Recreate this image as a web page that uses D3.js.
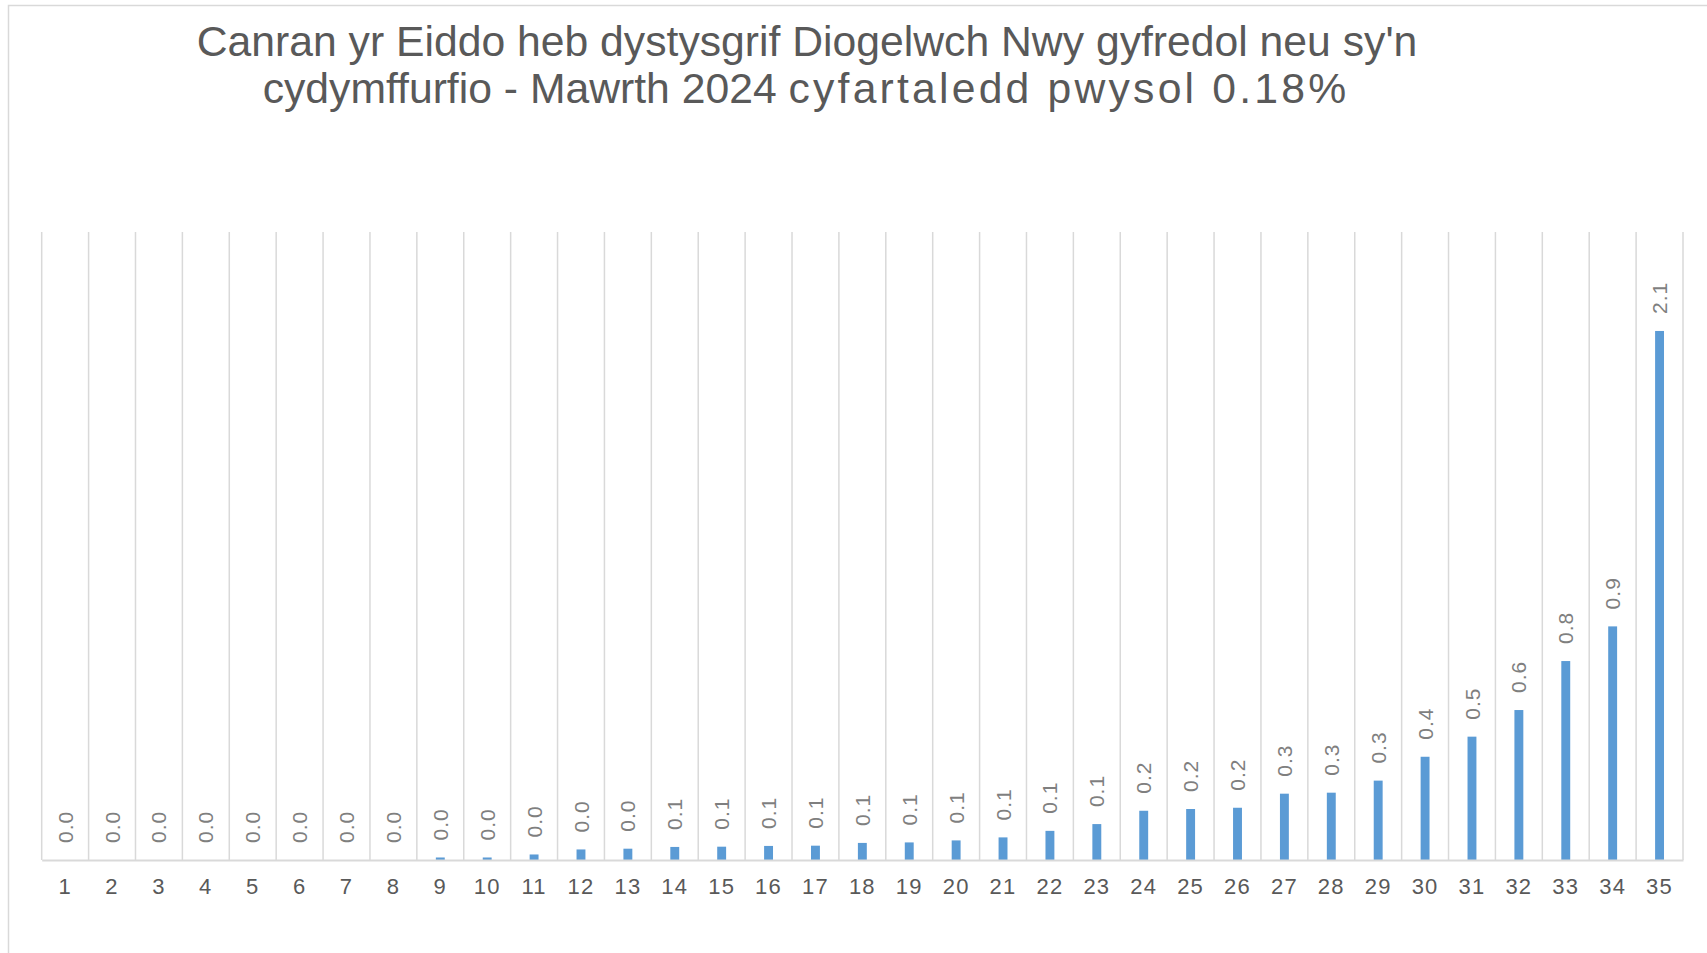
<!DOCTYPE html>
<html>
<head>
<meta charset="utf-8">
<script src="https://cdn.jsdelivr.net/npm/d3@7"></script>
<style>
  html, body { margin: 0; padding: 0; background: #ffffff; }
  svg { display: block; font-family: "Liberation Sans", Arial, sans-serif; }
</style>
</head>
<body>
<svg id="chart" width="1707" height="953"></svg>
<script>
const titleLine1 = "Canran yr Eiddo heb dystysgrif Diogelwch Nwy gyfredol neu sy'n";
const titleLine2a = "cydymffurfio - Mawrth 2024 ";
const titleLine2b = "cyfartaledd pwysol 0.18%";

const categories = ["1","2","3","4","5","6","7","8","9","10","11","12","13","14","15","16","17","18","19","20","21","22","23","24","25","26","27","28","29","30","31","32","33","34","35"];
const values = [0, 0, 0, 0, 0, 0, 0, 0, 0.010, 0.010, 0.022, 0.042, 0.045, 0.052, 0.053, 0.056, 0.057, 0.068, 0.070, 0.078, 0.090, 0.116, 0.143, 0.196, 0.203, 0.208, 0.264, 0.268, 0.316, 0.411, 0.491, 0.597, 0.792, 0.930, 2.106];
const yDomain = [0, 2.5];

const svg = d3.select("#chart");

// chart frame
svg.append("path")
  .attr("d", "M8.5,953 L8.5,5.5 L1707,5.5")
  .attr("fill", "none")
  .attr("stroke", "#d9d9d9")
  .attr("stroke-width", 1.5);

// title
const title = svg.append("text")
  .attr("text-anchor", "middle")
  .attr("fill", "#595959")
  .attr("font-size", 42.7);
title.append("tspan").attr("x", 807).attr("y", 56).text(titleLine1);
const l2 = title.append("tspan").attr("x", 806).attr("y", 103);
l2.append("tspan").text(titleLine2a);
l2.append("tspan").attr("letter-spacing", 3.2).text(titleLine2b);

const x = d3.scaleBand().domain(categories).range([41.7, 1683]).padding(0);
const y = d3.scaleLinear().domain(yDomain).range([860, 232]);

// vertical gridlines at category boundaries
const bounds = categories.map(c => x(c)).concat([x(categories[categories.length - 1]) + x.bandwidth()]);
svg.append("g").selectAll("line").data(bounds).join("line")
  .attr("x1", d => d).attr("x2", d => d)
  .attr("y1", y(yDomain[1])).attr("y2", y(0))
  .attr("stroke", "#d9d9d9").attr("stroke-width", 1.5);

// bars
const barW = x.bandwidth() * 0.19;
svg.append("g").selectAll("rect").data(values).join("rect")
  .attr("x", (d, i) => x(categories[i]) + x.bandwidth() / 2 - barW / 2)
  .attr("y", d => y(d))
  .attr("width", barW)
  .attr("height", d => y(0) - y(d))
  .attr("fill", "#5b9bd5");

// x axis
const xAxis = d3.axisBottom(x).tickSize(0).tickPadding(0);
const gx = svg.append("g").attr("transform", `translate(0,${y(0)})`).call(xAxis);
gx.select(".domain").attr("stroke", "#d9d9d9").attr("stroke-width", 2);
gx.selectAll(".tick text")
  .attr("y", 33.5)
  .attr("dy", 0)
  .attr("fill", "#595959")
  .attr("font-size", 22)
  .attr("letter-spacing", 1.2)
  .attr("font-family", "Liberation Sans, Arial, sans-serif");

// data labels, rotated
svg.append("g").selectAll("text").data(values).join("text")
  .attr("transform", (d, i) => `translate(${x(categories[i]) + x.bandwidth() / 2},${y(d) - 17}) rotate(-90)`)
  .attr("dy", "0.36em")
  .attr("text-anchor", "start")
  .attr("fill", "#7f7f7f")
  .attr("font-size", 21)
  .attr("letter-spacing", 1)
  .text(d => d.toFixed(1));
</script>
</body>
</html>
